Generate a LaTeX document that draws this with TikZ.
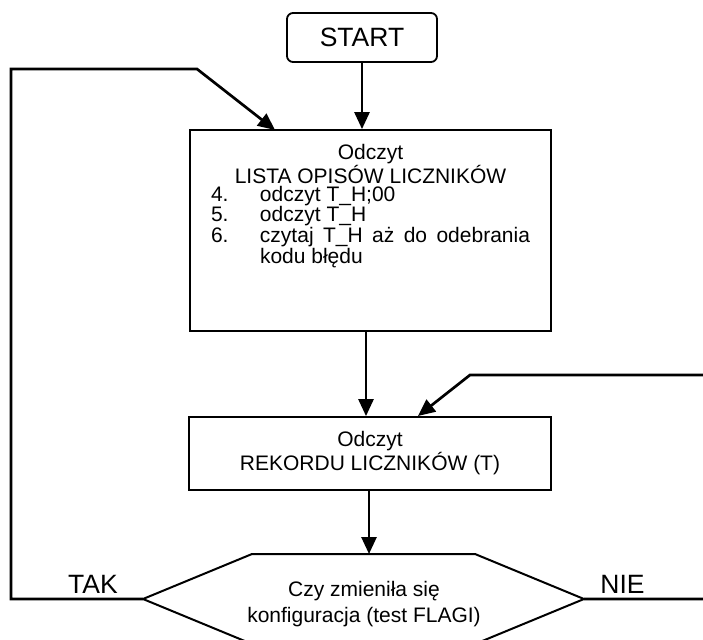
\documentclass[tikz,border=0pt]{standalone}
\usepackage{fontspec}
\setmainfont{Liberation Sans}
\usetikzlibrary{arrows.meta}
\lineskiplimit=-100pt

\begin{document}
\begin{tikzpicture}[x=1pt, y=-1pt,
        box/.style={draw, line width=1.8pt, inner sep=0pt},
        flow/.style={line width=2.7pt, -{Triangle[length=17pt, width=15pt]}},
        body/.style={font=\fontsize{21}{24}\selectfont},
        big/.style={font=\fontsize{26.5}{30}\selectfont}]
    \useasboundingbox (0,0) rectangle (703,639);
    \clip (0,0) rectangle (703,639);

    % Start
    \node[box, big, rounded corners=6pt, minimum width=150pt, minimum height=49pt] (start) at (362,37.5) {START};

    % Lista opisow
    \node[box, minimum width=361pt, minimum height=201pt] (lista) at (370.5,230.5) {%
        \parbox[c][201pt][t]{319pt}{\fontsize{21}{18}\selectfont
            \vspace*{14.5pt}
            {\centering Odczyt\\ LISTA OPISÓW LICZNIKÓW\par}
            \makebox[49pt][l]{4.}odczyt T\_H;00\par
            \makebox[49pt][l]{5.}odczyt T\_H\par
            \hangindent=49pt \hangafter=1
            \makebox[49pt][l]{6.}czytaj T\_H aż do odebrania\linebreak kodu błędu\par}};

    % Rekord
    \node[box, body, align=center, minimum width=362pt, minimum height=73pt] (rekord) at (370,453.5) {Odczyt\\REKORDU LICZNIKÓW (T)};

    % Decyzja
    \coordinate (hexL) at (143,599);
    \coordinate (hexR) at (584,599);
    \coordinate (hexT) at (369,554);
    \draw[line width=2pt] (hexL) -- (252,554) -- (475,554) -- (hexR) -- (475,644) -- (252,644) -- cycle;
    \node[body, align=center, inner sep=0pt, font=\fontsize{21}{26}\selectfont] (pytanie) at (364,604.5) {Czy zmieniła się\\konfiguracja (test FLAGI)};
    \node[big, anchor=base, inner sep=0pt] (tak) at (93,593) {TAK};
    \node[big, anchor=base, inner sep=0pt] (nie) at (622.5,593) {NIE};

    % Polaczenia
    \draw[flow] (start.south) -- (start.south |- lista.north);
    \draw[flow] ([xshift=-4.5pt]lista.south) -- ([xshift=-4.5pt]lista.south |- rekord.north);
    \draw[flow] ([xshift=-1pt]rekord.south) -- ([xshift=-1pt]rekord.south |- hexT);

    % TAK -> powrot do listy
    \coordinate (lewyG) at (11,69);
    \coordinate (lewyZ) at (197,69);
    \coordinate (wejscieL) at (275,130);
    \draw[flow] (hexL) -| (lewyG) -- (lewyZ) -- (wejscieL);

    % NIE -> powrot do rekordu
    \coordinate (prawyG) at (720,375);
    \coordinate (prawyZ) at (470,375);
    \coordinate (wejscieP) at (418,416);
    \draw[flow] (hexR) -| (prawyG) -- (prawyZ) -- (wejscieP);
\end{tikzpicture}
\end{document}
